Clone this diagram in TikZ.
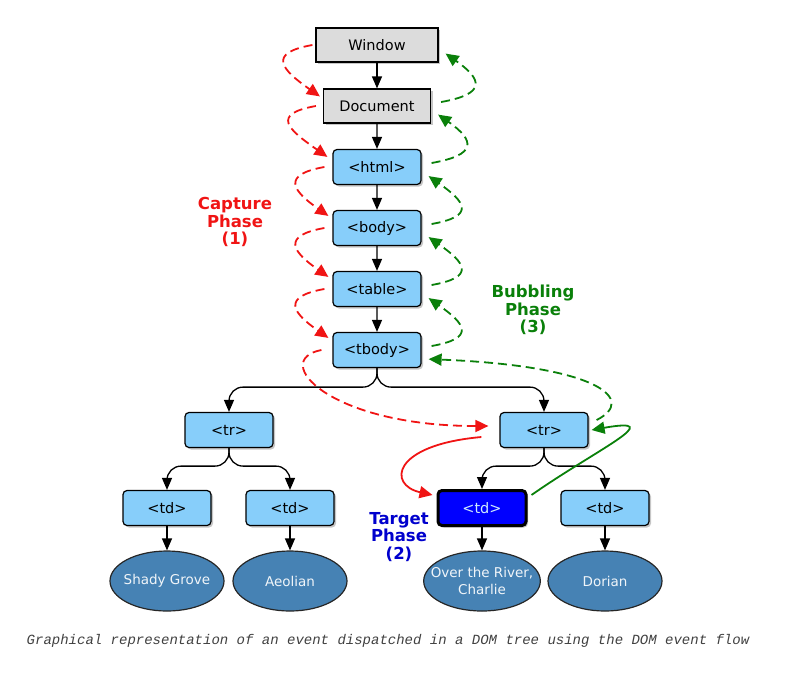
\documentclass[tikz,border=0pt]{standalone}
\usepackage{fontspec}
\setmainfont{DejaVu Sans}
\newfontfamily\capfont{Liberation Mono}
\usetikzlibrary{arrows.meta,shapes.geometric,shadows,trees}

\definecolor{tagblue}{RGB}{135,206,250}
\definecolor{wingray}{RGB}{220,220,220}
\definecolor{leafblue}{RGB}{70,130,180}
\definecolor{capred}{RGB}{240,20,20}
\definecolor{bubgreen}{RGB}{10,128,10}
\definecolor{tgtblue}{RGB}{0,0,205}

\tikzset{
  boxshadow/.style={drop shadow={shadow xshift=2pt,shadow yshift=-2pt,opacity=.45}},
  winbox/.style={draw, fill=wingray, line width=1.2pt, minimum height=34pt, boxshadow,
    font=\fontsize{14.5}{16}\selectfont},
  tagbox/.style={draw, fill=tagblue, rounded corners=4pt, line width=1.2pt,
    minimum width=88pt, minimum height=35pt, boxshadow, font=\fontsize{14.5}{16}\selectfont},
  target/.style={tagbox, fill=blue, line width=3pt, text=tagblue!40!white},
  leaf/.style={ellipse, draw=black!85, fill=leafblue, line width=1.2pt, text=white!92!leafblue,
    minimum width=114pt, minimum height=60pt, inner xsep=-10pt, inner ysep=0pt, align=center,
    font=\fontsize{13.5}{16.5}\selectfont},
  capt/.style={capred, line width=1.8pt, dash pattern=on 9pt off 5pt,
    -{Triangle[length=13pt,width=12pt]}},
  bubl/.style={bubgreen, line width=1.8pt, dash pattern=on 9pt off 5pt,
    -{Triangle[length=13pt,width=12pt]}},
  phase/.style={font=\bfseries\fontsize{16.5}{17.5}\selectfont, align=center}
}

\begin{document}
\begin{tikzpicture}[x=1pt,y=1pt,
    level distance=61pt, parent anchor=south, child anchor=north,
    edge from parent/.style={draw, line width=1.3pt, rounded corners=14pt,
      -{Triangle[length=12pt,width=10pt]}},
    level 6/.style={grow via three points={one child at (0,-80) and two children at (-148,-80) and (167,-80)},
      edge from parent path={(\tikzparentnode.south) -- ++(0,-19) -| (\tikzchildnode.north)}},
    level 7/.style={grow via three points={one child at (0,-78) and two children at (-62,-78) and (61,-78)},
      edge from parent path={(\tikzparentnode.south) -- ++(0,-18) -| (\tikzchildnode.north)}},
    level 8/.style={grow via three points={one child at (0,-73) and two children at (0,-73) and (0,-73)},
      edge from parent path={(\tikzparentnode.south) -- (\tikzchildnode.north)}}]
  \useasboundingbox (0,0) rectangle (800,-678);

  % the DOM tree
  \node[winbox, minimum width=122pt] (win) at (377,-45) {Window}
    child {node[winbox, minimum width=107pt] (doc) {Document}
      child {node[tagbox] (html) {<html>}
        child {node[tagbox] (body) {<body>}
          child {node[tagbox] (tbl) {<table>}
            child {node[tagbox] (tbody) {<tbody>}
              child {node[tagbox] (trL) {<tr>}
                child {node[tagbox] (tdA) {<td>}
                  child {node[leaf] (lfA) {Shady Grove}}}
                child {node[tagbox] (tdB) {<td>}
                  child {node[leaf] (lfB) {Aeolian}}}}
              child {node[tagbox] (trR) {<tr>}
                child {node[target] (tdT) {<td>}
                  child {node[leaf] (lfT) {Over the River,\\Charlie}}}
                child {node[tagbox] (tdD) {<td>}
                  child {node[leaf] (lfD) {Dorian}}}}}}}}};

  % capture phase
  \draw[capt] ([xshift=-3pt]win.west) to[out=190,in=145,looseness=2.3] ([shift={(-3,-8)}]doc.north west);
  \draw[capt] ([xshift=-7pt]doc.west) to[out=190,in=145,looseness=2.3] ([shift={(-5,-8)}]html.north west);
  \draw[capt] ([xshift=-8pt]html.west) to[out=190,in=145,looseness=2.3] ([shift={(-4,-6)}]body.north west);
  \draw[capt] ([xshift=-8pt]body.west) to[out=190,in=145,looseness=2.3] ([shift={(-4,-6)}]tbl.north west);
  \draw[capt] ([xshift=-8pt]tbl.west) to[out=190,in=145,looseness=2.3] ([shift={(-4,-6)}]tbody.north west);
  \draw[capt] ([xshift=-11pt]tbody.west) .. controls +(-52,-10) and +(-160,0) .. ([shift={(-11,4)}]trR.west);
  \draw[capred, line width=1.8pt, -{Triangle[length=13pt,width=12pt]}]
    ([shift={(-18,-7)}]trR.west) .. controls +(-90,-8) and +(-45,10) .. ([shift={(-4,-6)}]tdT.north west);

  % bubbling phase
  \draw[bubgreen, line width=1.8pt, -{Triangle[length=13pt,width=12pt]}]
    ([shift={(4,-6)}]tdT.north east) to[out=35,in=10,looseness=2.3] ([xshift=3pt]trR.east);
  \draw[bubl] ([shift={(8,10)}]trR.east) .. controls +(40,20) and +(172,-7) .. ([shift={(7,9)}]tbody.south east);
  \draw[bubl] ([shift={(10,4)}]tbody.east) to[out=10,in=-35,looseness=2.4] ([shift={(7,9)}]tbl.south east);
  \draw[bubl] ([shift={(10,4)}]tbl.east) to[out=10,in=-35,looseness=2.4] ([shift={(7,9)}]body.south east);
  \draw[bubl] ([shift={(10,4)}]body.east) to[out=10,in=-35,looseness=2.4] ([shift={(7,9)}]html.south east);
  \draw[bubl] ([shift={(10,4)}]html.east) to[out=10,in=-35,looseness=2.4] ([shift={(7,9)}]doc.south east);
  \draw[bubl] ([shift={(10,4)}]doc.east) to[out=10,in=-35,looseness=2.4] ([shift={(7,9)}]win.south east);

  % phase labels
  \node[phase, text=capred] (capLbl) at (235,-222) {Capture\\Phase\\(1)};
  \node[phase, text=bubgreen] (bubLbl) at (533,-310) {Bubbling\\Phase\\(3)};
  \node[phase, text=tgtblue] (tgtLbl) at (399,-537) {Target\\Phase\\(2)};

  \node[font=\capfont\itshape\fontsize{14}{16}\selectfont, text=black!75] (cap) at (388,-641)
    {Graphical representation of an event dispatched in a DOM tree using the DOM event flow};
\end{tikzpicture}
\end{document}
